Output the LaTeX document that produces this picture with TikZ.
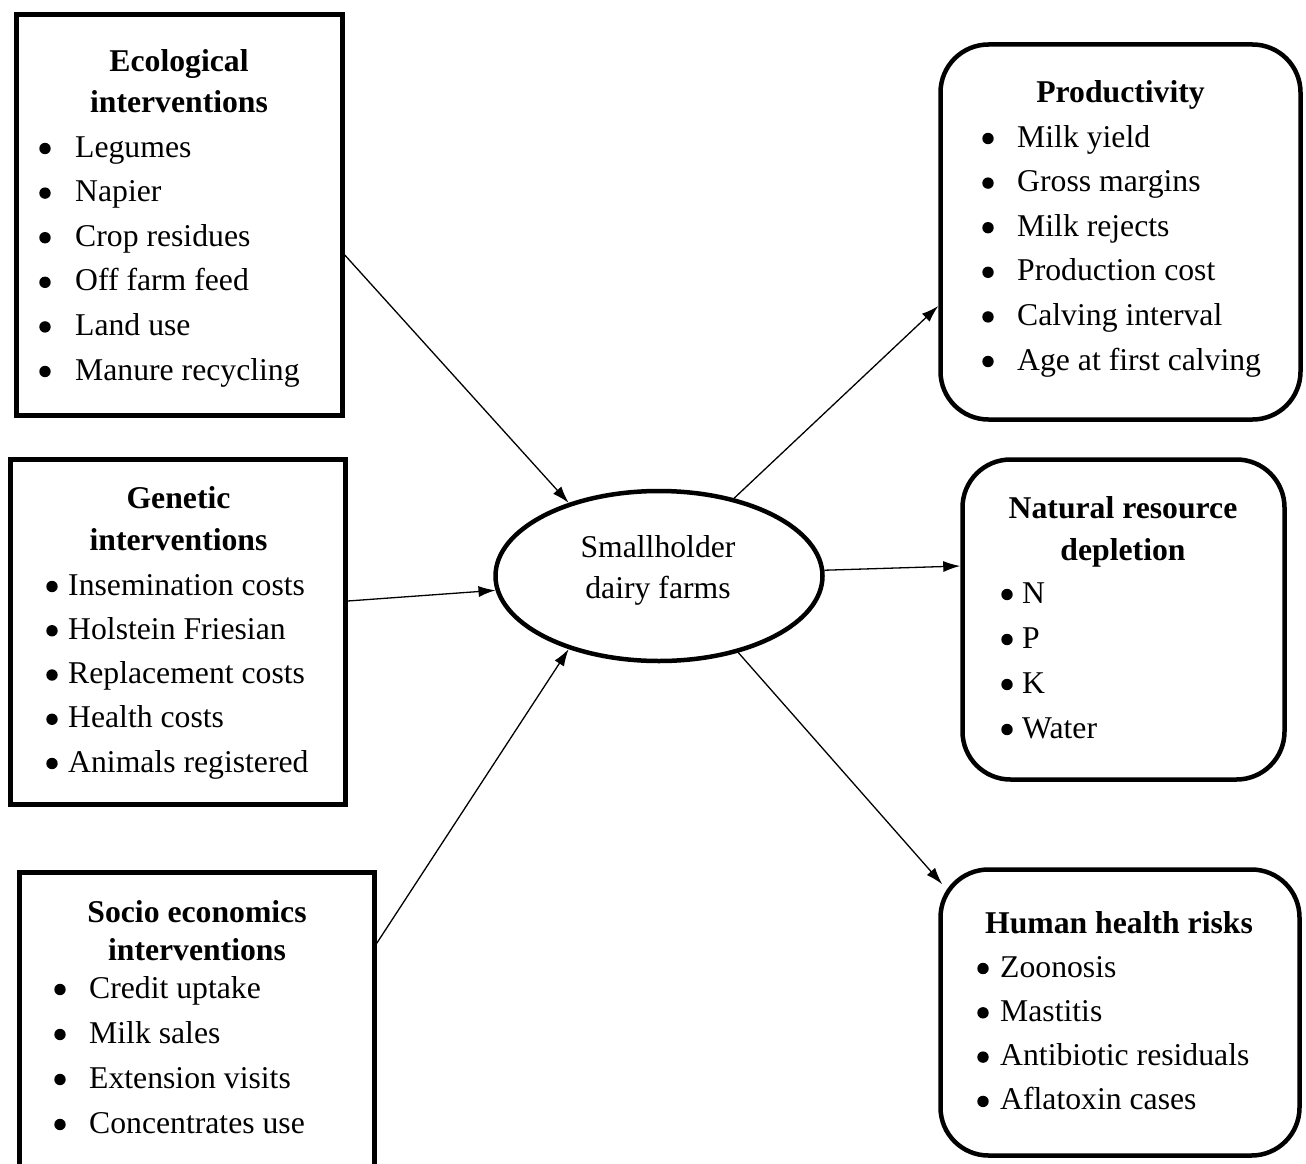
\documentclass[tikz,border=0pt]{standalone}
\usepackage{fontspec}
\setmainfont{Liberation Serif}
\usetikzlibrary{arrows.meta,shapes.geometric}
\tikzset{
  sqbox/.style={draw, line width=4.5pt, rectangle, inner sep=0pt},
  rdbox/.style={draw, line width=4.5pt, rectangle, rounded corners=48pt, inner sep=0pt},
  hub/.style={draw, line width=4.5pt, ellipse, inner sep=0pt},
  txt/.style={inner sep=0pt, font=\fontsize{31.7}{38}\selectfont},
  ttl/.style={txt, anchor=base, font=\fontsize{31.7}{38}\selectfont\bfseries},
  itm/.style={txt, anchor=base west},
  dot/.style={fill=black},
  arr/.style={line width=1.3pt, -{Latex[length=17pt,width=11pt]}}
}
\newcommand\bulletat[2]{\fill[dot] ([xshift=-#2pt,yshift=8.5pt]#1.base west) circle (5.7pt);}
\begin{document}
\begin{tikzpicture}[x=1pt,y=-1pt]
\useasboundingbox (0,0) rectangle (1306,1164);
\clip (0,0) rectangle (1306,1164);
\fill[white] (0,0) rectangle (1306,1164);

% boxes
\node[sqbox, minimum width=326pt, minimum height=401pt] (eco) at (179.5,215) {};
\node[sqbox, minimum width=335pt, minimum height=345pt] (gen) at (178,632) {};
\node[sqbox, minimum width=355pt, minimum height=327.5pt] (soc) at (197,1036.25) {};
\node[hub, minimum width=327pt, minimum height=170pt] (ell) at (659,576) {};
\node[rdbox, minimum width=360pt, minimum height=375pt] (prod) at (1120.5,232) {};
\node[rdbox, minimum width=322pt, minimum height=320pt] (nat) at (1123.5,619.5) {};
\node[rdbox, minimum width=359pt, minimum height=286pt] (hum) at (1120,1012.5) {};

% ecological
\node[ttl] (ecoT1) at (179,71) {Ecological};
\node[ttl] (ecoT2) at (179,112) {interventions};
\foreach \t [count=\i] in {Legumes, Napier, Crop residues, Off farm feed, Land use, Manure recycling}{
  \node[itm] (eco\i) at (75,{157+44.6*(\i-1)}) {\t};
  \bulletat{eco\i}{30}}

% genetic
\node[ttl] (genT1) at (178.5,508) {Genetic};
\node[ttl] (genT2) at (178.5,550) {interventions};
\foreach \t [count=\i] in {Insemination costs, Holstein Friesian, Replacement costs, Health costs, Animals registered}{
  \node[itm] (gen\i) at (68,{595+44.25*(\i-1)}) {\t};
  \bulletat{gen\i}{16}}

% socio economics
\node[ttl] (socT1) at (197,922) {Socio economics};
\node[ttl] (socT2) at (197,960) {interventions};
\foreach \t [count=\i] in {Credit uptake, Milk sales, Extension visits, Concentrates use}{
  \node[itm] (soc\i) at (89,{998+45*(\i-1)}) {\t};
  \bulletat{soc\i}{29}}

% hub text
\node[txt, anchor=base] (hubT1) at (658,557) {Smallholder};
\node[txt, anchor=base] (hubT2) at (658,598) {dairy farms};

% productivity
\node[ttl] (prodT) at (1120.5,102) {Productivity};
\foreach \t [count=\i] in {Milk yield, Gross margins, Milk rejects, Production cost, Calving interval, Age at first calving}{
  \node[itm] (prod\i) at (1017,{147+44.6*(\i-1)}) {\t};
  \bulletat{prod\i}{29}}

% natural resource depletion
\node[ttl] (natT1) at (1123,518) {Natural resource};
\node[ttl] (natT2) at (1123,560) {depletion};
\foreach \t [count=\i] in {N, P, K, Water}{
  \node[itm] (nat\i) at (1022,{603+45*(\i-1)}) {\t};
  \bulletat{nat\i}{15}}

% human health risks
\node[ttl] (humT) at (1119,933) {Human health risks};
\foreach \t [count=\i] in {Zoonosis, Mastitis, Antibiotic residuals, Aflatoxin cases}{
  \node[itm] (hum\i) at (1000,{977+44.3*(\i-1)}) {\t};
  \bulletat{hum\i}{17}}

% connectors
\draw[arr] ([yshift=-40pt]eco.east) -- (ell.141);
\draw[arr] ([yshift=31pt]gen.east) -- (ell.185);
\draw[arr] ([yshift=93pt]soc.east) -- (ell.219);
\draw[arr] (ell.46.5) -- ([yshift=-74pt]prod.west);
\draw[arr] (ell.2) -- ([yshift=53.5pt]nat.west);
\draw[arr] (ell.316) -- ([xshift=4pt,yshift=-17pt]hum.north west);
\end{tikzpicture}
\end{document}
